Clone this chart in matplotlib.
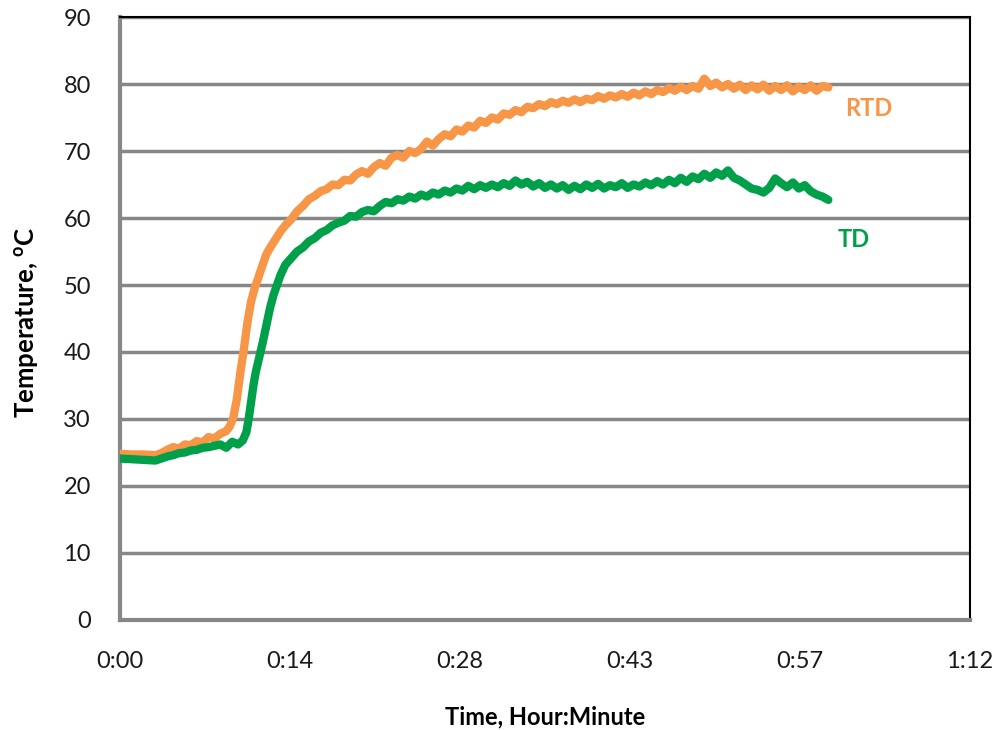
import matplotlib
matplotlib.use("Agg")
import matplotlib.pyplot as plt

plt.rcParams['font.family'] = ['Lato', 'DejaVu Sans']
plt.rcParams['mathtext.fontset'] = 'custom'
plt.rcParams['mathtext.bf'] = 'Lato:bold'
plt.rcParams['mathtext.rm'] = 'Lato'

# time in minutes, temperature in degC
rtd_time = [0, 1, 2, 3, 3.5, 4, 4.5, 5, 5.5, 6, 6.5, 7, 7.5, 8, 8.5, 9,
            9.3, 9.6, 9.9, 10.2, 10.5, 10.8, 11.1, 11.4, 11.7, 12.0, 12.4,
            12.8, 13.2, 13.6, 14.0, 14.5, 15.0, 15.5, 16.0, 16.5, 17.0, 17.5,
            18.0, 18.5, 19.0, 19.5, 20.0, 20.5, 21.0, 21.5, 22.0, 22.5, 23.0,
            23.5, 24.0, 24.5, 25.0, 25.5, 26.0, 26.5, 27.0, 27.5, 28.0, 28.5,
            29.0, 29.5, 30.0, 30.5, 31.0, 31.5, 32.0, 32.5, 33.0, 33.5, 34.0,
            34.5, 35.0, 35.5, 36.0, 36.5, 37.0, 37.5, 38.0, 38.5, 39.0, 39.5,
            40.0, 40.5, 41.0, 41.5, 42.0, 42.5, 43.0, 43.5, 44.0, 44.5, 45.0,
            45.5, 46.0, 46.5, 47.0, 47.5, 48.0, 48.5, 49.0, 49.5, 50.0, 50.5,
            51.0, 51.5, 52.0, 52.5, 53.0, 53.5, 54.0, 54.5, 55.0, 55.5, 56.0,
            56.5, 57.0, 57.5, 58.0, 58.5, 59.0, 59.5, 60.0]
rtd_temp = [24.8, 24.7, 24.7, 24.6, 24.9, 25.4, 25.8, 25.6, 26.2, 26.1, 26.7,
            26.5, 27.3, 27.1, 27.8, 28.2, 28.9, 30.2, 33.0, 37.0, 40.5, 44.5,
            47.5, 49.5, 51.0, 52.6, 54.6, 55.8, 56.9, 58.0, 58.9, 59.8, 61.0,
            61.8, 62.8, 63.3, 64.0, 64.3, 65.0, 64.9, 65.7, 65.6, 66.5, 67.0,
            66.6, 67.6, 68.2, 67.8, 69.0, 69.4, 69.0, 70.0, 69.7, 70.3, 71.4,
            70.8, 71.8, 72.5, 72.2, 73.2, 72.9, 73.8, 73.5, 74.5, 74.2, 75.0,
            74.7, 75.6, 75.4, 76.1, 75.8, 76.6, 76.4, 77.0, 76.7, 77.3, 77.0,
            77.5, 77.2, 77.7, 77.3, 77.8, 77.6, 78.2, 77.8, 78.3, 78.0, 78.5,
            78.1, 78.7, 78.3, 78.9, 78.5, 79.1, 78.8, 79.4, 79.0, 79.6, 79.1,
            79.7, 79.3, 80.8, 79.7, 80.2, 79.5, 80.0, 79.3, 79.9, 79.1, 79.8,
            79.2, 79.9, 79.0, 79.7, 79.1, 79.8, 78.9, 79.6, 79.1, 79.8, 79.0,
            79.7, 79.5]

td_time = [0, 1, 2, 3, 3.5, 4, 4.5, 5, 5.5, 6, 6.5, 7, 7.5, 8, 8.5, 9, 9.5,
           10.0, 10.4, 10.7, 10.9, 11.1, 11.3, 11.5, 11.7, 11.9, 12.1, 12.4,
           12.7, 13.0, 13.3, 13.6, 14.0, 14.5, 15.0, 15.5, 16.0, 16.5, 17.0,
           17.5, 18.0, 18.5, 19.0, 19.5, 20.0, 20.5, 21.0, 21.5, 22.0, 22.5,
           23.0, 23.5, 24.0, 24.5, 25.0, 25.5, 26.0, 26.5, 27.0, 27.5, 28.0,
           28.5, 29.0, 29.5, 30.0, 30.5, 31.0, 31.5, 32.0, 32.5, 33.0, 33.5,
           34.0, 34.5, 35.0, 35.5, 36.0, 36.5, 37.0, 37.5, 38.0, 38.5, 39.0,
           39.5, 40.0, 40.5, 41.0, 41.5, 42.0, 42.5, 43.0, 43.5, 44.0, 44.5,
           45.0, 45.5, 46.0, 46.5, 47.0, 47.5, 48.0, 48.5, 49.0, 49.5, 50.0,
           50.5, 51.0, 51.5, 52.0, 52.5, 53.0, 53.5, 54.0, 54.5, 55.0, 55.5,
           56.0, 56.5, 57.0, 57.5, 58.0, 58.5, 59.0, 59.5, 60.0]
td_temp = [24.1, 24.0, 23.9, 23.8, 24.1, 24.4, 24.6, 24.9, 25.0, 25.3, 25.4,
           25.7, 25.8, 26.0, 26.2, 25.7, 26.6, 26.2, 26.8, 28.0, 30.0, 32.5,
           35.0, 37.0, 38.5, 40.0, 41.5, 44.0, 46.5, 48.5, 50.0, 51.5, 53.0,
           54.0, 55.0, 55.6, 56.5, 57.0, 57.8, 58.2, 58.9, 59.3, 59.6, 60.3,
           60.2, 60.9, 61.2, 61.0, 61.8, 62.4, 62.2, 62.8, 62.6, 63.2, 62.9,
           63.5, 63.2, 63.8, 63.5, 64.1, 63.8, 64.4, 64.1, 64.8, 64.3, 64.9,
           64.5, 65.0, 64.6, 65.2, 64.8, 65.6, 65.0, 65.4, 64.7, 65.2, 64.5,
           65.0, 64.4, 64.9, 64.2, 64.8, 64.3, 65.0, 64.5, 65.1, 64.4, 64.9,
           64.6, 65.2, 64.5, 65.0, 64.7, 65.3, 64.9, 65.5, 65.0, 65.7, 65.2,
           66.0, 65.4, 66.2, 65.8, 66.6, 66.0, 66.8, 66.3, 67.1, 66.0, 65.6,
           65.0, 64.4, 64.2, 63.8, 64.5, 65.9, 65.2, 64.6, 65.3, 64.4, 64.9,
           64.0, 63.5, 63.2, 62.7]

x_ticks = [0, 14.4, 28.8, 43.2, 57.6, 72]
x_labels = ['0:00', '0:14', '0:28', '0:43', '0:57', '1:12']
y_ticks = list(range(0, 100, 10))

orange = '#F79646'
green = '#00A04A'
grid_gray = '#878787'

fig = plt.figure(figsize=(10, 7.3), dpi=100)
ax = fig.add_axes([0.12, 0.1507, 0.85, 0.826])

ax.plot(rtd_time, rtd_temp, color=orange, lw=6, solid_capstyle='round',
        solid_joinstyle='round', zorder=3)
ax.plot(td_time, td_temp, color=green, lw=6, solid_capstyle='round',
        solid_joinstyle='round', zorder=4)

ax.set_xlim(0, 72)
ax.set_ylim(0, 90)
ax.set_xticks(x_ticks)
ax.set_xticklabels(x_labels)
ax.set_yticks(y_ticks)
ax.tick_params(axis='both', length=0, labelsize=17, colors='#1a1a1a')
ax.tick_params(axis='x', pad=22)
ax.tick_params(axis='y', pad=21)

ax.grid(axis='y', color=grid_gray, lw=2.5, zorder=1)
ax.set_axisbelow(True)

for side in ['left', 'bottom']:
    ax.spines[side].set_color(grid_gray)
    ax.spines[side].set_linewidth(3)
for side in ['top', 'right']:
    ax.spines[side].set_color('black')
    ax.spines[side].set_linewidth(1.5)

fig.text(0.545, 0.007, 'Time, Hour:Minute', fontsize=17, fontweight='bold',
         ha='center', va='baseline')
fig.text(0.027, 0.559, r'Temperature, $^\mathbf{o}$C', fontsize=18.5,
         fontweight='bold', rotation=90, ha='center', va='center')

ax.text(61.4, 76.3, 'RTD', color=orange, fontsize=17, fontweight='bold',
        va='center', ha='left')
ax.text(60.8, 56.8, 'TD', color=green, fontsize=17, fontweight='bold',
        va='center', ha='left')

fig.savefig('out.png', dpi=100)
